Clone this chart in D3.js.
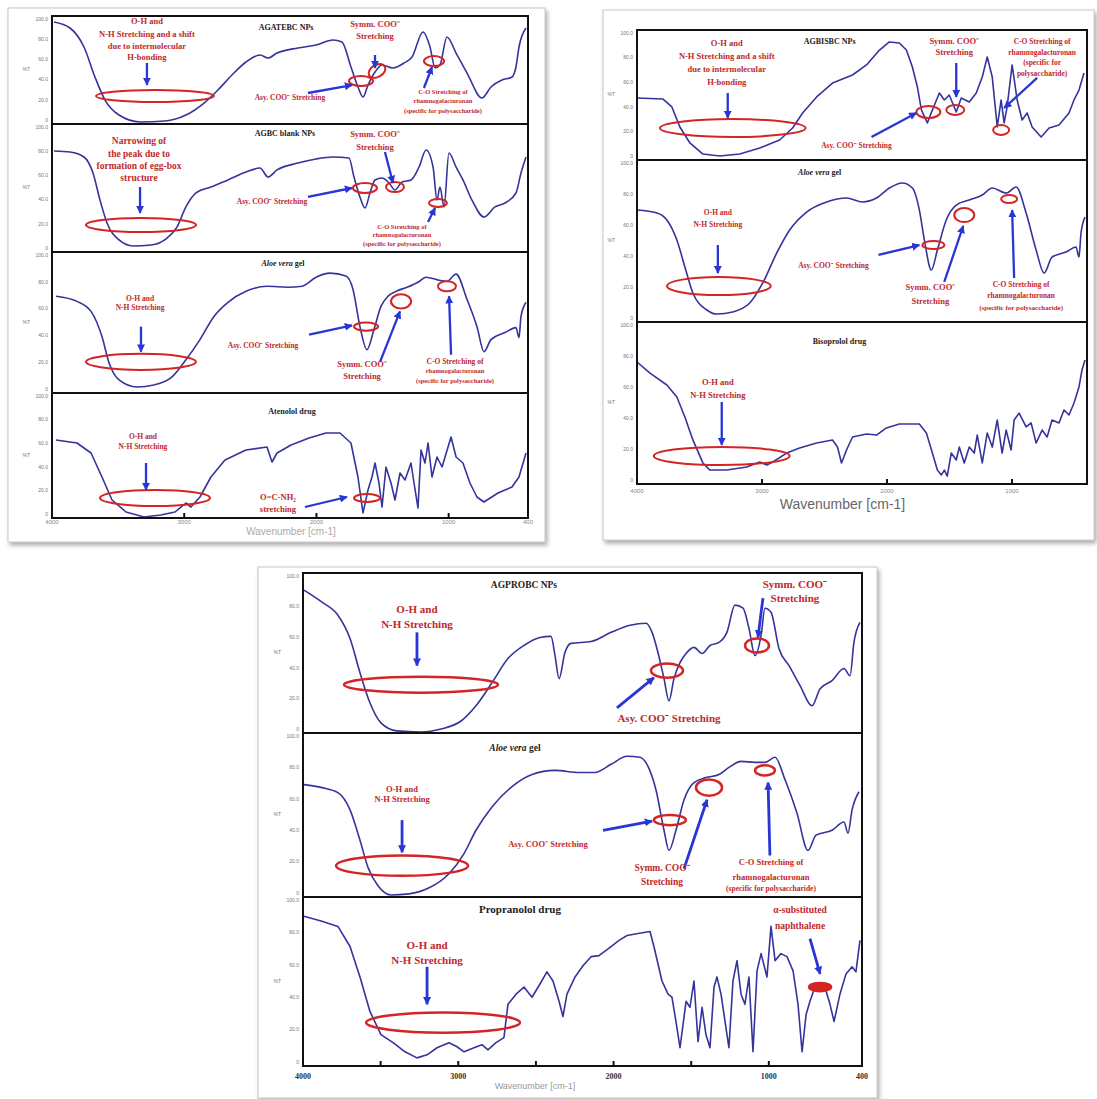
<!DOCTYPE html>
<html lang="en">
<head>
<meta charset="utf-8">
<title>FTIR spectra</title>
<style>
  body, html { margin: 0; padding: 0; background: #fff; }
  svg { display: block; }
  .frame { fill: none; stroke: #111; stroke-width: 2; }
  .spec { fill: none; stroke: #34349c; stroke-width: 1.6; stroke-linejoin: round; }
  .note { fill: #c0282c; font-family: "Liberation Serif", serif; font-weight: bold; text-anchor: middle; dominant-baseline: middle; }
  .title { fill: #222; font-family: "Liberation Serif", serif; font-weight: bold; text-anchor: middle; dominant-baseline: middle; }
  .ring { stroke: #d42424; }
  .arrow { stroke: #2a36d4; fill: none; }
  .ytick { fill: #777; font-family: "Liberation Sans", sans-serif; font-size: 5px; text-anchor: end; dominant-baseline: middle; }
</style>
</head>
<body>
<svg></svg>
<script src="https://d3js.org/d3.v7.min.js"></script>
<script>
let w = 1097, h = 1099;
let svg = d3.select("svg").attr("width", w).attr("height", h);

// ---- spectra: wavenumber (cm-1) and %T ----
const agatebcWn = [3985, 3864, 3758, 3675, 3599, 3493, 3334, 3145, 2987, 2850, 2745, 2639, 2533, 2427, 2366, 2298, 2140, 2003, 1875, 1807, 1739, 1686, 1648, 1610, 1557, 1504, 1421, 1338, 1277, 1194, 1141, 1103, 1066, 1013, 944, 861, 748, 680, 597, 521, 491, 468, 415];
const agatebcT = [94.4, 88.9, 71.3, 43.5, 22.2, 8.3, 1.9, 2.8, 8.3, 19.4, 31.5, 45.4, 57.4, 63.9, 61.1, 65.7, 70.4, 73.1, 77.8, 75.9, 52.8, 34.3, 25, 36.1, 48.1, 54.6, 51.9, 56.5, 62, 85.2, 71.3, 51.9, 54.6, 80.6, 65.7, 47.2, 24.1, 34.3, 40.7, 43.5, 52.8, 71.3, 88.9];

const agbcWn = [3985, 3864, 3758, 3690, 3637, 3584, 3493, 3387, 3251, 3130, 3055, 2987, 2911, 2798, 2669, 2533, 2427, 2366, 2298, 2140, 2003, 1875, 1754, 1716, 1671, 1633, 1595, 1557, 1504, 1451, 1406, 1353, 1285, 1224, 1171, 1118, 1088, 1066, 1035, 998, 944, 892, 824, 733, 650, 574, 491, 453, 415];
const agbcT = [78.9, 78.1, 74.2, 61.7, 40.6, 22.7, 9.4, 4.7, 5.5, 10.9, 19.5, 35.2, 46.1, 50.8, 56.3, 62.5, 65.6, 58.6, 64.1, 69.5, 72.7, 74.2, 73.4, 58.6, 43, 34.4, 46.1, 56.3, 57.8, 53.9, 48.4, 54.7, 56.3, 66.4, 79.7, 66.4, 40.6, 50.8, 35.2, 77.3, 66.4, 56.3, 40.6, 27.3, 35.2, 38.3, 46.1, 61.7, 74.2];

const aloeAWn = [3970, 3811, 3705, 3622, 3569, 3493, 3357, 3229, 3092, 2987, 2881, 2775, 2669, 2533, 2374, 2215, 2109, 2003, 1897, 1777, 1724, 1671, 1618, 1565, 1512, 1459, 1398, 1315, 1232, 1171, 1073, 1013, 944, 861, 786, 733, 680, 574, 491, 468, 453, 415];
const aloeAT = [68.6, 65, 57.9, 40, 21.4, 9.3, 4.3, 5.7, 11.4, 23.6, 37.9, 54.3, 64.3, 72.1, 75.7, 75, 75.7, 82.1, 85, 82.9, 73.6, 47.1, 30.7, 45, 61.4, 68.6, 72.1, 75, 78.6, 82.1, 80, 79.3, 84.3, 66.4, 47.1, 29.3, 37.9, 42.9, 46.4, 39.3, 54.3, 64.3];

const atenololWn = [3970, 3811, 3705, 3622, 3546, 3440, 3304, 3176, 3070, 2987, 2949, 2881, 2798, 2692, 2533, 2374, 2336, 2298, 2192, 2056, 1928, 1822, 1739, 1686, 1648, 1610, 1580, 1557, 1527, 1504, 1474, 1436, 1406, 1368, 1330, 1285, 1262, 1232, 1209, 1179, 1156, 1126, 1088, 1050, 982, 944, 892, 839, 786, 733, 627, 521, 468, 415];
const atenololT = [62.4, 60, 52, 32.8, 14.4, 4.8, 0.8, 2.4, 4.8, 12, 8.8, 16.8, 32.8, 46.4, 54.4, 56.8, 44.8, 52, 58.4, 64, 68, 68, 60, 32.8, 4, 22.4, 32.8, 44, 28, 8.8, 40.8, 28, 14.4, 36, 30.4, 44, 28, 8, 54.4, 44, 60, 32.8, 48.8, 40.8, 64.8, 48.8, 44, 28, 16.8, 12.8, 20, 24.8, 32.8, 52];

const agbisbcWn = [4000, 3792, 3721, 3657, 3577, 3473, 3337, 3178, 3018, 2859, 2755, 2675, 2563, 2436, 2276, 2164, 2060, 1981, 1901, 1845, 1797, 1757, 1725, 1677, 1637, 1581, 1541, 1502, 1446, 1406, 1342, 1286, 1238, 1198, 1158, 1118, 1087, 1063, 1039, 999, 959, 919, 879, 839, 767, 703, 624, 544, 504, 464, 424];
const agbisbcT = [47.7, 46.9, 40.8, 25.4, 13.1, 4.6, 3.1, 4.6, 9.2, 15.4, 24.6, 36.2, 48.5, 59.2, 65.4, 73.1, 84.6, 90.8, 90, 84.6, 71.5, 56.2, 38.5, 28.5, 38.5, 51.5, 46.2, 50, 36.9, 47.7, 44.6, 51.5, 63.8, 79.2, 63.8, 25.4, 46.2, 28.5, 40.8, 73.1, 46.2, 30.8, 36.2, 25.4, 17.7, 24.6, 26.9, 36.2, 46.2, 53.8, 66.9];

const aloeBWn = [4000, 3840, 3761, 3681, 3617, 3553, 3441, 3361, 3234, 3098, 2994, 2882, 2779, 2643, 2483, 2324, 2196, 2084, 1981, 1877, 1797, 1741, 1701, 1645, 1597, 1526, 1446, 1342, 1238, 1158, 1047, 967, 887, 807, 743, 680, 568, 488, 464, 448, 416];
const aloeBT = [69.1, 67.3, 63, 50.6, 34, 17.9, 7.4, 4.9, 6.2, 11.7, 24.1, 42.6, 56.8, 67.9, 74.1, 76.5, 74.1, 76.5, 82.7, 85.8, 82.7, 69.1, 50.6, 32.1, 44.4, 63, 72.2, 75.3, 78.4, 82.7, 79.6, 83.3, 67.3, 44.4, 30.2, 40.1, 43.2, 46.3, 40.1, 54.9, 64.8];

const bisoprololWn = [4000, 3896, 3761, 3681, 3617, 3553, 3473, 3417, 3282, 3122, 3018, 2962, 2914, 2803, 2699, 2563, 2436, 2396, 2364, 2324, 2276, 2164, 2084, 2005, 1901, 1741, 1685, 1637, 1597, 1565, 1541, 1518, 1486, 1446, 1422, 1382, 1342, 1302, 1278, 1238, 1198, 1158, 1118, 1079, 1047, 1007, 983, 943, 887, 847, 807, 759, 719, 680, 624, 584, 544, 504, 464, 440, 416];
const bisoprololT = [75.3, 68.5, 61.1, 53.7, 41.4, 27.2, 13, 8.6, 8.6, 10.5, 13.6, 11.7, 13.6, 19.1, 22.2, 25.3, 27.2, 22.8, 13, 21, 29, 30.9, 30.2, 34.6, 37, 37, 31.5, 19.1, 8.6, 5.6, 8.6, 4.9, 19.1, 14.8, 22.8, 13, 22.8, 19.1, 30.2, 13, 31.5, 22.8, 39.5, 19.1, 33.3, 21, 39.5, 43.8, 35.2, 37.7, 25.3, 33.3, 29, 39.5, 37.7, 45.7, 42.6, 50, 59.9, 70.4, 76.5];

const agprobcWn = [3994, 3878, 3775, 3697, 3633, 3569, 3498, 3395, 3240, 3111, 2982, 2886, 2783, 2680, 2577, 2474, 2403, 2377, 2351, 2313, 2274, 2145, 2016, 1894, 1791, 1752, 1714, 1675, 1643, 1611, 1572, 1533, 1482, 1430, 1379, 1321, 1270, 1218, 1166, 1128, 1089, 1050, 1025, 986, 935, 870, 799, 722, 670, 593, 516, 477, 452, 413];
const agprobcT = [89.3, 81.8, 73.6, 59.1, 37.7, 18.9, 6.3, 1.3, 0.6, 2.5, 7.5, 17, 31.4, 46.5, 54.7, 59.7, 60.4, 48.4, 34, 50.3, 56, 57.2, 62.9, 67.3, 68.6, 62.9, 50.3, 34, 20.1, 34, 44, 49.7, 53.5, 49.7, 54.7, 56.6, 62.9, 79.9, 78, 65.4, 48.4, 61, 78, 75.5, 52.8, 42.1, 29.6, 17, 27.7, 32.7, 40.3, 35.8, 56.6, 69.2];

const aloeCWn = [3994, 3878, 3775, 3697, 3633, 3581, 3517, 3433, 3317, 3188, 3060, 2963, 2886, 2783, 2654, 2525, 2377, 2222, 2120, 2016, 1913, 1830, 1778, 1727, 1675, 1643, 1598, 1546, 1482, 1405, 1321, 1257, 1179, 1089, 1025, 960, 896, 819, 748, 696, 593, 516, 490, 464, 419];
const aloeCT = [68.5, 66.7, 63.6, 53.1, 34.6, 17.9, 6.8, 1.2, 1.9, 5.6, 14.2, 26.5, 40.7, 54.9, 67.3, 74.7, 77.2, 75.9, 75.9, 80.9, 85.8, 85.2, 79.6, 65.4, 40.7, 28.4, 40.7, 59.3, 69.8, 72.8, 74.7, 79, 82.7, 82.1, 82.1, 85.2, 71.6, 51.2, 28.4, 37.7, 40.7, 45.7, 38.9, 53.1, 64.2];

const propranololWn = [3994, 3878, 3775, 3697, 3633, 3569, 3498, 3420, 3343, 3266, 3201, 3137, 3060, 3008, 2963, 2899, 2847, 2809, 2757, 2706, 2680, 2628, 2577, 2525, 2474, 2429, 2390, 2351, 2326, 2300, 2248, 2197, 2145, 2094, 2016, 1965, 1913, 1843, 1765, 1740, 1688, 1649, 1624, 1598, 1572, 1533, 1508, 1482, 1456, 1430, 1405, 1379, 1353, 1334, 1308, 1282, 1257, 1231, 1205, 1179, 1154, 1128, 1102, 1076, 1050, 1012, 986, 960, 922, 883, 844, 812, 786, 760, 735, 696, 645, 606, 580, 542, 503, 464, 439, 413];
const propranololT = [88.6, 85.6, 82.6, 70.7, 52.7, 32.3, 18.6, 13.8, 8.4, 4.8, 6.6, 10.8, 13.8, 11.4, 8.4, 10.8, 12.6, 9.6, 13.8, 16.8, 36.5, 42.5, 46.7, 40.7, 48.5, 55.7, 50.3, 38.3, 29.3, 42.5, 52.7, 59.3, 64.7, 65.3, 70.7, 74.3, 77.2, 78.4, 79.6, 70.7, 50.3, 42.5, 40.7, 26.3, 10.8, 38.3, 34.7, 50.3, 14.4, 34.7, 18.6, 10.8, 46.7, 52.7, 42.5, 26.3, 10.8, 50.3, 62.3, 42.5, 36.5, 52.7, 8.4, 56.3, 66.5, 52.7, 82.6, 62.3, 66.5, 64.7, 56.3, 36.5, 8.4, 30.5, 38.3, 48.5, 48.5, 36.5, 26.3, 42.5, 54.5, 58.7, 55.7, 74.3];

// ---- axis ticks ----
const xTicks = [4000, 3000, 2000, 1000, 400];
const xTickLabels = ["4000", "3000", "2000", "1000", "400"];
const yTicks = [0, 20, 40, 60, 80, 100];
const yTickLabels = ["0", "20.0", "40.0", "60.0", "80.0", "100.0"];

// ---- annotations: [wavenumber, %T, text, size key] ----
const agatebcNotes = [[3282, 94.4, "O-H and", "m"], [3282, 82.4, "N-H Stretching and a shift", "m"], [3282, 71.3, "due to intermolecular", "m"], [3282, 61.1, "H-bonding", "m"],
  [1557, 91.7, "Symm. COO⁻", "m"], [1557, 80.6, "Stretching", "m"], [2200, 24.1, "Asy. COO⁻ Stretching", "s"],
  [1043, 29.6, "C-O Stretching of", "xs"], [1043, 20.4, "rhamnogalacturonan", "xs"], [1043, 11.1, "(specific for polysaccharide)", "xs"]];
const agatebcArrows = [[3282, 56.5, 3282, 36.1], [1557, 63.9, 1557, 51.9], [2064, 28.7, 1731, 36.1], [1187, 33.3, 1126, 52.8]];
const agatebcRings = [[3221, 25.9, 446, 5.6, 0], [1542, 49.1, 68, 5.6, -30], [1663, 39.8, 91, 4.6, 0], [1111, 58.3, 76, 4.6, 0]];

const agbcNotes = [[3342, 85.9, "Narrowing of", "l"], [3342, 76.3, "the peak due to", "l"], [3342, 66.8, "formation of egg-box", "l"], [3342, 57.4, "structure", "l"],
  [1557, 91.4, "Symm. COO⁻", "m"], [1557, 81.3, "Stretching", "m"], [2336, 39.1, "Asy. COO⁻ Stretching", "s"],
  [1353, 19.5, "C-O Stretching of", "xs"], [1353, 12.5, "rhamnogalacturonan", "xs"], [1353, 5.5, "(specific for polysaccharide)", "xs"]];
const agbcArrows = [[3334, 50.8, 3334, 30.5], [1482, 78.1, 1421, 53.9], [2064, 43, 1731, 50], [1156, 23.4, 1103, 34.4]];
const agbcRings = [[3327, 21.1, 416, 5.5, 0], [1406, 50.8, 68, 3.9, 0], [1633, 50, 91, 3.9, 0], [1081, 38.3, 68, 3.1, 0]];

const aloeANotes = [[3334, 66.4, "O-H and", "s"], [3334, 60, "N-H Stretching", "s"], [2404, 32.9, "Asy. COO⁻ Stretching", "s"],
  [1655, 20, "Symm. COO⁻", "m"], [1655, 11.4, "Stretching", "m"],
  [952, 22.1, "C-O Stretching of", "s"], [952, 15, "rhamnogalacturonan", "xs"], [952, 7.9, "(specific for polysaccharide)", "xs"]];
const aloeAArrows = [[3327, 47.1, 3327, 29.3], [2056, 41.4, 1731, 47.9], [1519, 22.1, 1368, 57.9], [982, 27.1, 997, 68.6]];
const aloeARings = [[3327, 22.1, 416, 5.7, 0], [1625, 47.1, 91, 2.9, 0], [1360, 65, 76, 5, 0], [1013, 75.7, 68, 3.6, 0]];

const atenololNotes = [[3312, 64.8, "O-H and", "s"], [3312, 56.8, "N-H Stretching", "s"], [2291, 16, "O=C-NH₂", "m"], [2291, 6.4, "stretching", "m"]];
const atenololArrows = [[3289, 44, 3289, 22.4], [2087, 8.8, 1769, 16.8]];
const atenololRings = [[3221, 16, 416, 6.4, 0], [1618, 16, 98, 3.2, 0]];

const agbisbcNotes = [[3282, 89.2, "O-H and", "m"], [3282, 79.2, "N-H Stretching and a shift", "m"], [3282, 69.2, "due to intermolecular", "m"], [3282, 59.2, "H-bonding", "m"],
  [1462, 90.8, "Symm. COO⁻", "m"], [1462, 82.3, "Stretching", "m"], [2244, 10.8, "Asy. COO⁻ Stretching", "s"],
  [759, 90.8, "C-O Stretching of", "s"], [759, 82.3, "rhamnogalacturonan", "s"], [759, 74.6, "(specific for", "s"], [759, 66.2, "polysaccharide)", "s"]];
const agbisbcArrows = [[3274, 51.5, 3274, 32.3], [1446, 74.6, 1446, 48.5], [2124, 17.7, 1765, 36.2], [799, 63.1, 1063, 40]];
const agbisbcRings = [[3234, 24.6, 583, 6.9, 0], [1454, 38.5, 72, 3.8, 0], [1669, 36.9, 96, 4.6, 0], [1087, 23.1, 64, 3.8, 0]];

const aloeBNotes = [[3353, 67.3, "O-H and", "s"], [3353, 59.9, "N-H Stretching", "s"], [2428, 34.6, "Asy. COO⁻ Stretching", "s"],
  [1653, 21, "Symm. COO⁻", "m"], [1653, 12.3, "Stretching", "m"],
  [927, 22.8, "C-O Stretching of", "s"], [927, 16, "rhamnogalacturonan", "s"], [927, 8.6, "(specific for polysaccharide)", "xs"]];
const aloeBArrows = [[3353, 47.5, 3353, 30.2], [2068, 41.4, 1741, 47.5], [1542, 24.7, 1390, 59.3], [983, 27.2, 999, 69.1]];
const aloeBRings = [[3345, 22.2, 415, 5.6, 0], [1629, 47.5, 88, 2.5, 0], [1382, 66, 80, 4.3, 0], [1023, 75.9, 64, 2.5, 0]];

const bisoprololNotes = [[3353, 62.3, "O-H and", "m"], [3353, 54.3, "N-H Stretching", "m"]];
const bisoprololArrows = [[3322, 50.6, 3322, 24.1]];
const bisoprololRings = [[3322, 17.3, 543, 5.6, 0]];

const agprobcNotes = [[3266, 76.7, "O-H and", "l"], [3266, 67.3, "N-H Stretching", "l"], [1643, 8.2, "Asy. COO⁻ Stretching", "l"],
  [832, 92.5, "Symm. COO⁻", "l"], [832, 83.6, "Stretching", "l"]];
const agprobcArrows = [[3266, 62.9, 3266, 42.1], [1978, 15.7, 1740, 34.6], [1038, 84.3, 1070, 59.7]];
const agprobcRings = [[3240, 30.2, 496, 5, 0], [1656, 39, 103, 4.4, 0], [1076, 54.7, 77, 4.4, 0]];

const aloeCNotes = [[3362, 65.4, "O-H and", "s"], [3362, 59.3, "N-H Stretching", "s"], [2422, 31.5, "Asy. COO⁻ Stretching", "s"],
  [1688, 17.3, "Symm. COO⁻", "m"], [1688, 8.6, "Stretching", "m"],
  [986, 20.4, "C-O Stretching of", "s"], [986, 11.7, "rhamnogalacturonan", "s"], [986, 4.9, "(specific for polysaccharide)", "xs"]];
const aloeCArrows = [[3362, 46.9, 3362, 27.2], [2068, 40.7, 1752, 46.3], [1546, 17.3, 1398, 59.3], [993, 25.3, 1005, 69.8]];
const aloeCRings = [[3362, 19.1, 425, 6.2, 0], [1637, 46.9, 103, 3.1, 0], [1385, 66.7, 84, 4.9, 0], [1025, 77.2, 64, 3.1, 0]];

const propranololNotes = [[3201, 70.7, "O-H and", "l"], [3201, 61.7, "N-H Stretching", "l"], [799, 91.6, "α-substituted", "m"], [799, 82.6, "naphthalene", "m"]];
const propranololArrows = [[3201, 58.7, 3201, 36.5], [735, 75.4, 670, 54.5]];
const propranololRings = [[3098, 25.7, 496, 6, 0], [670, 46.7, 71, 2.4, 0, "fill"]];

// ---- layout of the three figure cards ----
let cards = [
  { box: [8, 8, 537, 534], x0: 52, x1: 528, rows: [16, 124, 252, 393, 518], minor: [3000, 2000, 1000],
    sizes: { l: 9.5, m: 8.5, s: 7.5, xs: 6.5, title: 8, big: 8 }, ring: 2, arrowW: 2.3,
    tickDy: 6, tickSize: 6, tickFill: "#888", tickBold: false, skip400: false,
    wnLabel: { wn: 2192, dy: 17, size: 10, fill: "#aaa" } },
  { box: [603, 10, 491, 530], x0: 637, x1: 1087, rows: [30, 160, 322, 484], minor: [3000, 2000, 1000],
    sizes: { l: 9.5, m: 8.5, s: 7.5, xs: 7, title: 8, big: 8 }, ring: 2, arrowW: 2.3,
    tickDy: 9, tickSize: 6, tickFill: "#888", tickBold: false, skip400: true,
    wnLabel: { wn: 2356, dy: 25, size: 14, fill: "#666" } },
  { box: [258, 567, 619, 531], x0: 303, x1: 862, rows: [573, 733, 897, 1066], minor: [3500, 3000, 2500, 2000, 1500, 1000],
    sizes: { l: 11, m: 9.5, s: 8.5, xs: 7.5, title: 9.5, big: 11 }, ring: 2.5, arrowW: 2.8,
    tickDy: 13, tickSize: 8, tickFill: "#333", tickBold: true, skip400: false,
    wnLabel: { wn: 2506, dy: 23, size: 9, fill: "#999" } }
];

let panels = [
  { card: 0, row: 0, title: "AGATEBC NPs", tWn: 2230, tT: 88.9, wn: agatebcWn, t: agatebcT, smooth: true, notes: agatebcNotes, arrows: agatebcArrows, rings: agatebcRings },
  { card: 0, row: 1, title: "AGBC blank NPs", tWn: 2238, tT: 92.2, wn: agbcWn, t: agbcT, smooth: true, notes: agbcNotes, arrows: agbcArrows, rings: agbcRings },
  { card: 0, row: 2, title: "Aloe vera gel", tWn: 2253, tT: 91.4, wn: aloeAWn, t: aloeAT, smooth: true, notes: aloeANotes, arrows: aloeAArrows, rings: aloeARings },
  { card: 0, row: 3, title: "Atenolol drug", tWn: 2185, tT: 84.8, wn: atenololWn, t: atenololT, smooth: false, notes: atenololNotes, arrows: atenololArrows, rings: atenololRings },
  { card: 1, row: 0, title: "AGBISBC NPs", tWn: 2459, tT: 90.8, wn: agbisbcWn, t: agbisbcT, smooth: false, notes: agbisbcNotes, arrows: agbisbcArrows, rings: agbisbcRings },
  { card: 1, row: 1, title: "Aloe vera gel", tWn: 2539, tT: 92, wn: aloeBWn, t: aloeBT, smooth: true, notes: aloeBNotes, arrows: aloeBArrows, rings: aloeBRings },
  { card: 1, row: 2, title: "Bisoprolol drug", tWn: 2380, tT: 87.7, wn: bisoprololWn, t: bisoprololT, smooth: false, notes: bisoprololNotes, arrows: bisoprololArrows, rings: bisoprololRings },
  { card: 2, row: 0, title: "AGPROBC NPs", tWn: 2577, tT: 91.8, wn: agprobcWn, t: agprobcT, smooth: true, notes: agprobcNotes, arrows: agprobcArrows, rings: agprobcRings },
  { card: 2, row: 1, title: "Aloe vera gel", tWn: 2635, tT: 90.1, wn: aloeCWn, t: aloeCT, smooth: true, notes: aloeCNotes, arrows: aloeCArrows, rings: aloeCRings },
  { card: 2, row: 2, title: "Propranolol drug", tWn: 2603, tT: 92.2, big: true, wn: propranololWn, t: propranololT, smooth: false, notes: propranololNotes, arrows: propranololArrows, rings: propranololRings }
];

// shadow + arrow head
let defs = svg.append("defs");
defs.append("filter").attr("id", "shadow").attr("x", "-5%").attr("y", "-5%").attr("width", "112%").attr("height", "112%")
  .append("feDropShadow").attr("dx", 2).attr("dy", 3).attr("stdDeviation", 2)
  .attr("flood-color", "#777").attr("flood-opacity", 0.6);
defs.append("marker").attr("id", "head").attr("viewBox", "0 0 10 10")
  .attr("refX", 9).attr("refY", 5).attr("markerWidth", 8).attr("markerHeight", 8)
  .attr("markerUnits", "userSpaceOnUse").attr("orient", "auto")
  .append("path").attr("d", "M0,0 L10,5 L0,10 z").attr("fill", "#2a36d4");

// cards
cards.forEach(c => {
  svg.append("rect")
    .attr("x", c.box[0]).attr("y", c.box[1]).attr("width", c.box[2]).attr("height", c.box[3])
    .attr("fill", "#fff").attr("stroke", "#c8c8c8").attr("stroke-width", 1)
    .attr("filter", "url(#shadow)");
});

// panels
panels.forEach(p => {
  let c = cards[p.card];
  let top = c.rows[p.row], bottom = c.rows[p.row + 1];
  let x = d3.scaleLinear().domain([4000, 400]).range([c.x0, c.x1]);
  let y = d3.scaleLinear().domain([0, 100]).range([bottom, top]);
  // tick labels sit a little inside the frame so neighbouring panels don't collide
  let yLab = d3.scaleLinear().domain([0, 100]).range([bottom - 3.5, top + 3.5]);
  let g = svg.append("g");

  // y tick labels and %T
  g.selectAll(".ytick").data(yTicks).enter().append("text")
    .attr("class", "ytick")
    .attr("x", c.x0 - 4).attr("y", d => yLab(d))
    .text((d, i) => yTickLabels[i]);
  g.append("text").attr("class", "ytick")
    .attr("x", c.x0 - 22).attr("y", (top + bottom) / 2)
    .text("%T");

  // spectrum
  let pts = p.wn.map((d, i) => [d, p.t[i]]);
  let line = d3.line().x(d => x(d[0])).y(d => y(d[1]))
    .curve(p.smooth ? d3.curveMonotoneX : d3.curveLinear);
  g.append("path").attr("class", "spec").attr("d", line(pts));

  // red rings
  g.selectAll(".ring").data(p.rings).enter().append("ellipse")
    .attr("class", "ring")
    .attr("cx", d => x(d[0])).attr("cy", d => y(d[1]))
    .attr("rx", d => Math.abs(x(d[0] - d[2]) - x(d[0])))
    .attr("ry", d => Math.abs(y(0) - y(d[3])))
    .attr("transform", d => `rotate(${d[4]},${x(d[0])},${y(d[1])})`)
    .attr("fill", d => d[5] ? "#d42424" : "none")
    .attr("stroke-width", c.ring);

  // blue arrows
  g.selectAll(".arrow").data(p.arrows).enter().append("line")
    .attr("class", "arrow")
    .attr("x1", d => x(d[0])).attr("y1", d => y(d[1]))
    .attr("x2", d => x(d[2])).attr("y2", d => y(d[3]))
    .attr("stroke-width", c.arrowW)
    .attr("marker-end", "url(#head)");

  // red notes
  g.selectAll(".note").data(p.notes).enter().append("text")
    .attr("class", "note")
    .attr("x", d => x(d[0])).attr("y", d => y(d[1]))
    .style("font-size", d => c.sizes[d[3]] + "px")
    .text(d => d[2]);

  // title
  let tt = g.append("text").attr("class", "title")
    .attr("x", x(p.tWn)).attr("y", y(p.tT))
    .style("font-size", (p.big ? c.sizes.big : c.sizes.title) + "px");
  if (p.title.startsWith("Aloe vera")) {
    tt.append("tspan").style("font-style", "italic").text("Aloe vera");
    tt.append("tspan").text(p.title.slice(9));
  } else {
    tt.text(p.title);
  }
});

// frames, ticks and axis labels
cards.forEach(c => {
  let x = d3.scaleLinear().domain([4000, 400]).range([c.x0, c.x1]);
  let top = c.rows[0], bottom = c.rows[c.rows.length - 1];
  let g = svg.append("g");
  g.append("rect").attr("class", "frame")
    .attr("x", c.x0).attr("y", top).attr("width", c.x1 - c.x0).attr("height", bottom - top);
  g.selectAll(".div").data(c.rows.slice(1, -1)).enter().append("line")
    .attr("x1", c.x0).attr("x2", c.x1).attr("y1", d => d).attr("y2", d => d)
    .attr("stroke", "#111").attr("stroke-width", 2.2);
  g.selectAll(".mtick").data(c.minor).enter().append("line")
    .attr("x1", d => x(d)).attr("x2", d => x(d))
    .attr("y1", bottom).attr("y2", bottom - 5)
    .attr("stroke", "#111").attr("stroke-width", 2);
  let ticks = xTicks.map((d, i) => [d, xTickLabels[i]]).filter(d => !(c.skip400 && d[0] === 400));
  g.selectAll(".xt").data(ticks).enter().append("text")
    .attr("x", d => x(d[0])).attr("y", bottom + c.tickDy)
    .attr("text-anchor", "middle")
    .style("font-family", c.tickBold ? "'Liberation Serif', serif" : "'Liberation Sans', sans-serif")
    .style("font-weight", c.tickBold ? "bold" : "normal")
    .style("font-size", c.tickSize + "px")
    .attr("fill", c.tickFill)
    .text(d => d[1]);
  g.append("text")
    .attr("x", x(c.wnLabel.wn)).attr("y", bottom + c.wnLabel.dy)
    .attr("text-anchor", "middle")
    .style("font-family", "'Liberation Sans', sans-serif")
    .style("font-size", c.wnLabel.size + "px")
    .attr("fill", c.wnLabel.fill)
    .text("Wavenumber [cm-1]");
});
</script>
</body>
</html>
